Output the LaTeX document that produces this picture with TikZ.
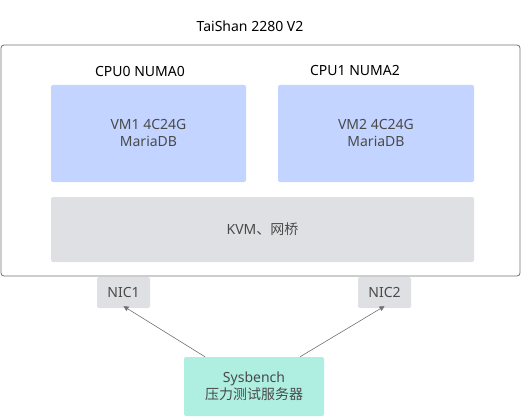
\documentclass[tikz,border=0pt]{standalone}
\usepackage{fontspec}
\usepackage{tikz}
\usetikzlibrary{arrows.meta}
\setmainfont{Noto Sans}
\newfontfamily\cjk{Noto Sans CJK SC}
\definecolor{vmblue}{HTML}{C2D4FF}
\definecolor{kvmgray}{HTML}{DFE0E4}
\definecolor{sysgreen}{HTML}{AEEFE2}
\definecolor{edgegray}{HTML}{707070}
\definecolor{txtgray}{HTML}{4A4A4A}

\begin{document}
\begin{tikzpicture}[x=1pt,y=-1pt,font=\fontsize{14}{17}\selectfont,
  box/.style={rectangle, rounded corners=2pt, align=center, text=txtgray},
  link/.style={->,>={Triangle[length=5pt,width=5pt]},edgegray,line width=0.6pt}]
\useasboundingbox (0,0) rectangle (522,417);
\node[draw=edgegray, rectangle, rounded corners=3pt, line width=0.8pt,
  minimum width=519pt, minimum height=231pt] (host) at (260.5,160.5) {};
\node (title) at (250,26) {TaiShan 2280 V2};
\node (cpu0) at (140,71) {CPU0 NUMA0};
\node (cpu1) at (355,71) {CPU1 NUMA2};
\node[box, fill=vmblue, minimum width=195pt, minimum height=97pt] (vm1) at (148.5,133.5) {VM1 4C24G\\MariaDB};
\node[box, fill=vmblue, minimum width=196pt, minimum height=97pt] (vm2) at (376,133.5) {VM2 4C24G\\MariaDB};
\node[box, fill=kvmgray, minimum width=423pt, minimum height=65pt] (kvm) at (262.5,229.5) {KVM{\cjk 、网桥}};
\node[box, fill=kvmgray, minimum width=53pt, minimum height=31pt] (nic1) at (123.5,292.5) {NIC1};
\node[box, fill=kvmgray, minimum width=53pt, minimum height=31pt] (nic2) at (384.5,292.5) {NIC2};
\node[box, fill=sysgreen, minimum width=140pt, minimum height=59pt] (sys) at (254,386.5) {Sysbench\\{\cjk 压力测试服务器}};
\draw [link] ([xshift=-49pt]sys.north) -- ([yshift=2pt]nic1.south);
\draw [link] ([xshift=46pt]sys.north) -- ([yshift=2pt]nic2.south);
\end{tikzpicture}
\end{document}
